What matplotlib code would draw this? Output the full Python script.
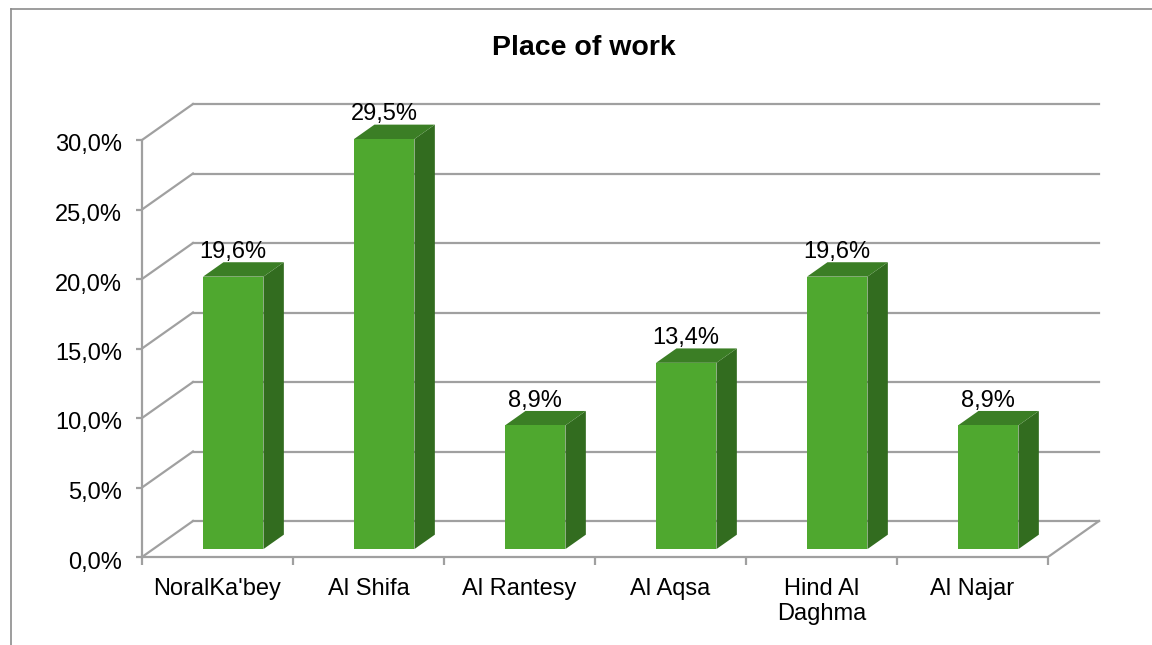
import matplotlib.pyplot as plt
from matplotlib.patches import Polygon
from matplotlib.lines import Line2D
from matplotlib.transforms import ScaledTranslation

plt.rcParams["font.family"] = ["Liberation Sans", "DejaVu Sans"]

categories = ["NoralKa'bey", "Al Shifa", "Al Rantesy", "Al Aqsa", "Hind Al\nDaghma", "Al Najar"]
values = [19.6, 29.5, 8.9, 13.4, 19.6, 8.9]
yticks = [0, 5, 10, 15, 20, 25, 30]

W, H = 1152, 645
fig = plt.figure(figsize=(W / 100, H / 100), dpi=100)

# axes placed so that x=0 sits at the front y axis, y=0 at the front floor edge
px_x, px_y = 151.0, 13.9
ax = fig.add_axes([142 / W, (H - 557) / H, 6.5 * px_x / W, 34 * px_y / H])
ax.set_xlim(0, 6.5)
ax.set_ylim(0, 34)

# fake 3d depth offsets (in data units)
ddx = 51 / px_x
ddy = 36 / px_y
grid_c = "#a0a0a0"
n = len(categories)


def proj(x, y, d):
    return (x + d * ddx, y + d * ddy)


# back wall, side wall and floor lines
for v in yticks:
    ax.add_line(Line2D([ddx, n + ddx], [v + ddy, v + ddy], color=grid_c, lw=1.6, zorder=1))
    ax.add_line(Line2D([0, ddx], [v, v + ddy], color=grid_c, lw=1.6, zorder=1))
ax.add_line(Line2D([n, n + ddx], [0, ddy], color=grid_c, lw=1.6, zorder=1))

# bars
front_c, top_c, side_c = "#4fa82f", "#3b7e25", "#326c1f"
w = 0.4
d0, d1 = 0.22, 0.62
for i, v in enumerate(values):
    x0 = i + 0.33
    x1 = x0 + w
    front = [proj(x0, 0, d0), proj(x1, 0, d0), proj(x1, v, d0), proj(x0, v, d0)]
    top = [proj(x0, v, d0), proj(x1, v, d0), proj(x1, v, d1), proj(x0, v, d1)]
    side = [proj(x1, 0, d0), proj(x1, 0, d1), proj(x1, v, d1), proj(x1, v, d0)]
    ax.add_patch(Polygon(side, closed=True, fc=side_c, ec="none", zorder=3))
    ax.add_patch(Polygon(top, closed=True, fc=top_c, ec="none", zorder=3))
    ax.add_patch(Polygon(front, closed=True, fc=front_c, ec="none", zorder=4))
    ly = proj((x0 + x1) / 2, v, d1)[1]
    lx = proj((x0 + x1) / 2, v, d0)[0]
    ax.annotate(f"{v:.1f}".replace(".", ",") + "%", (lx, ly), xytext=(0, 3),
                textcoords="offset points", ha="center", va="baseline",
                fontsize=17, zorder=5)

# axes / ticks
for s in ["top", "right"]:
    ax.spines[s].set_visible(False)
ax.spines["left"].set_bounds(0, 30)
ax.spines["bottom"].set_bounds(0, n)
for s in ["left", "bottom"]:
    ax.spines[s].set_color(grid_c)
    ax.spines[s].set_linewidth(1.6)

ax.set_yticks(yticks)
ax.set_yticklabels([f"{t:.1f}".replace(".", ",") + "%" for t in yticks])
ax.tick_params(axis="y", length=4.5, width=1.6, color=grid_c, pad=10, labelsize=17)
shift = ScaledTranslation(0, -3 / 100, fig.dpi_scale_trans)
for lab in ax.get_yticklabels():
    lab.set_transform(lab.get_transform() + shift)

ax.set_xticks(range(n + 1))
ax.set_xticklabels([])
ax.tick_params(axis="x", which="major", length=6, width=1.6, color=grid_c)
ax.set_xticks([i + 0.5 for i in range(n)], minor=True)
ax.set_xticklabels(categories, minor=True, fontsize=17)
ax.tick_params(axis="x", which="minor", length=0, pad=15)

fig.text(584 / W, 1 - 48 / H, "Place of work", ha="center", va="center",
         fontsize=20.5, fontweight="bold")

# chart area border
fig.add_artist(Line2D([11 / W, 1.0], [1 - 9 / H, 1 - 9 / H], color="#8c8c8c", lw=1.2,
                      transform=fig.transFigure))
fig.add_artist(Line2D([11 / W, 11 / W], [0, 1 - 9 / H], color="#8c8c8c", lw=1.2,
                      transform=fig.transFigure))

fig.savefig("out.png", dpi=100)
